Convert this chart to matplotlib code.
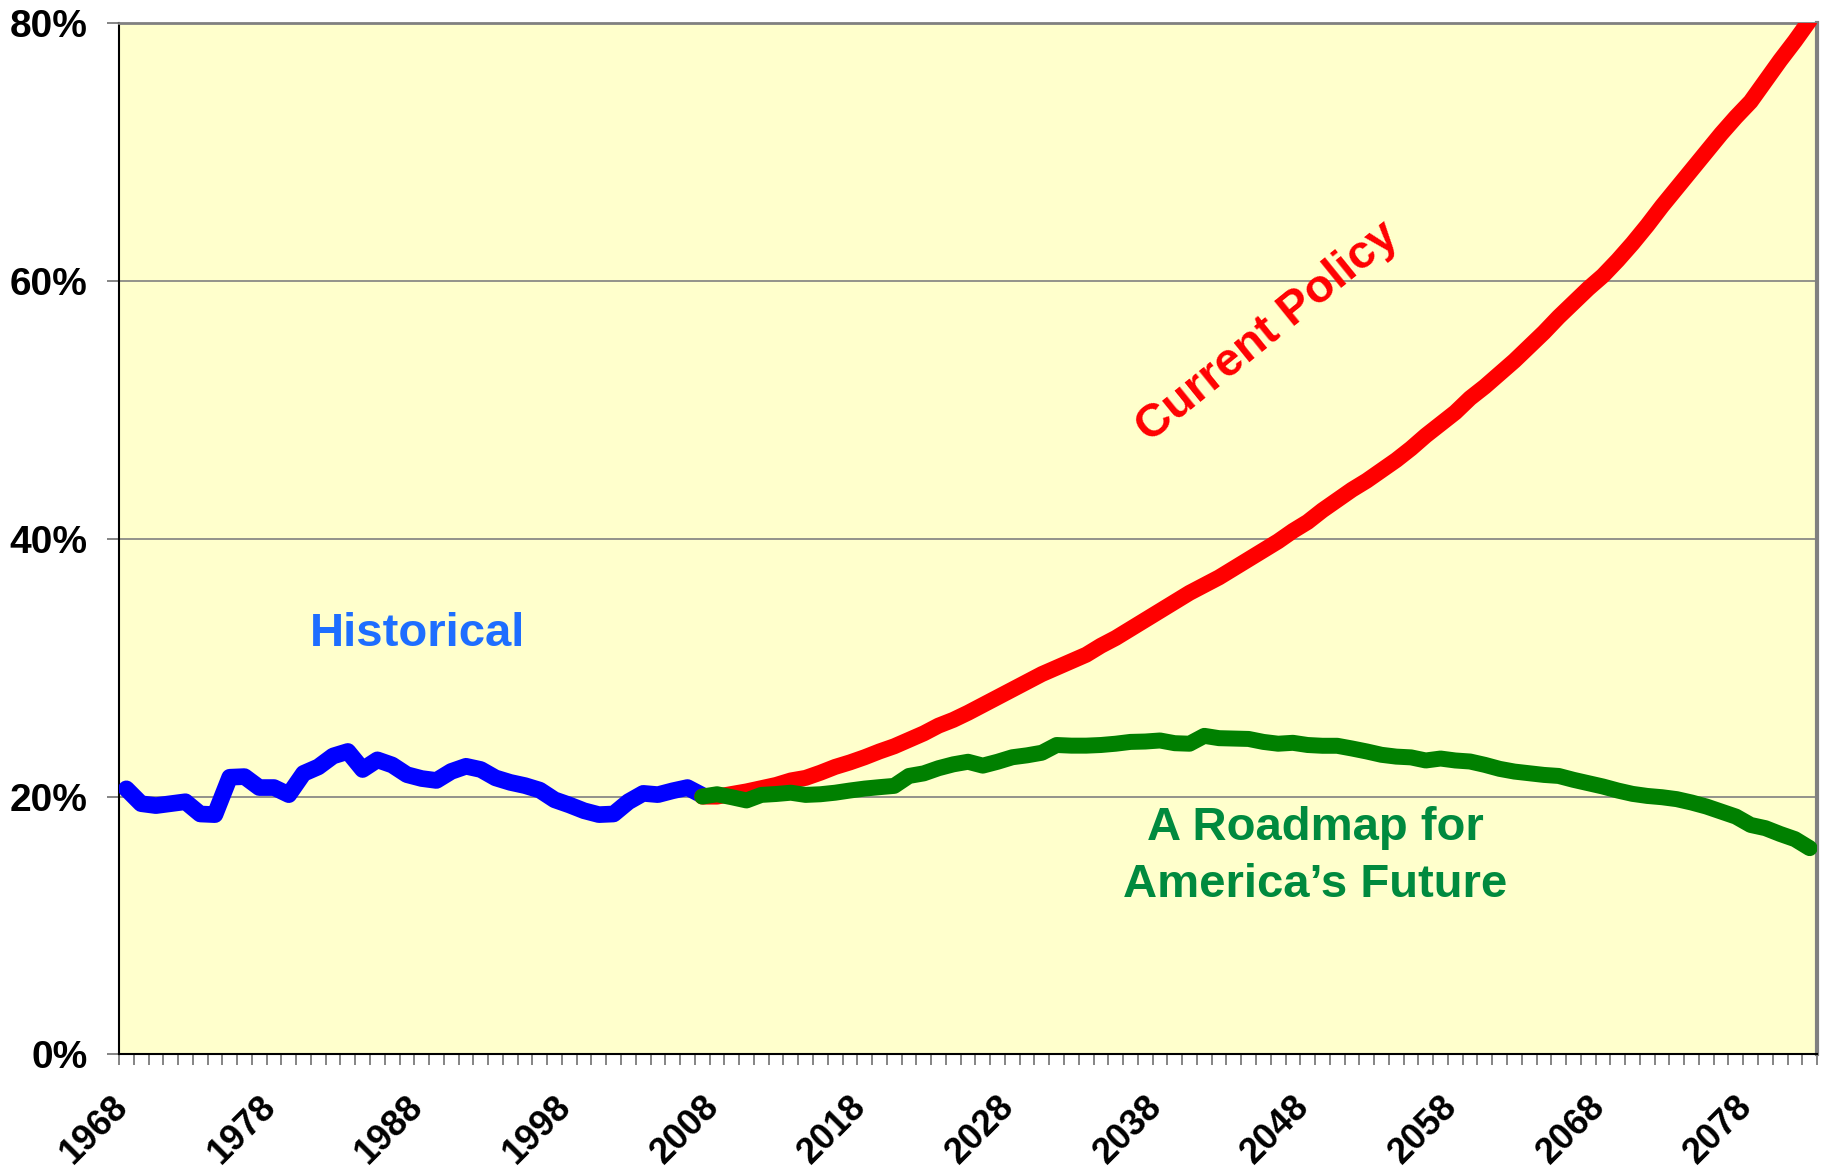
import matplotlib
matplotlib.use("Agg")
import matplotlib.pyplot as plt
from matplotlib.ticker import FixedLocator, FuncFormatter
from matplotlib.transforms import ScaledTranslation

plt.rcParams['font.family'] = ['Liberation Sans', 'DejaVu Sans']

# ---- data (percent of GDP) ----
hist_years = list(range(1968, 2008))
historical = [20.6, 19.45, 19.3, 19.45, 19.6, 18.65, 18.6, 21.5, 21.55, 20.7,
              20.7, 20.15, 21.8, 22.3, 23.15, 23.5, 22.1, 22.85, 22.45, 21.7,
              21.4, 21.25, 21.95, 22.35, 22.1, 21.45, 21.1, 20.85, 20.5, 19.75,
              19.35, 18.9, 18.6, 18.65, 19.6, 20.25, 20.15, 20.45, 20.7, 20.1]

proj_years = list(range(2007, 2083))
current_policy = [20.0, 20.0, 20.2, 20.4, 20.65, 20.9, 21.25, 21.45, 21.85, 22.3,
                  22.65, 23.05, 23.5, 23.9, 24.4, 24.9, 25.5, 25.95, 26.5, 27.1,
                  27.7, 28.3, 28.9, 29.5, 30.0, 30.5, 31.0, 31.7, 32.3, 33.0,
                  33.7, 34.4, 35.1, 35.8, 36.4, 37.0, 37.7, 38.4, 39.1, 39.8,
                  40.6, 41.3, 42.2, 43.0, 43.8, 44.5, 45.3, 46.1, 47.0, 48.0,
                  48.9, 49.8, 50.9, 51.8, 52.8, 53.8, 54.9, 56.0, 57.2, 58.3,
                  59.4, 60.4, 61.6, 62.9, 64.3, 65.8, 67.2, 68.6, 70.0, 71.4,
                  72.7, 73.9, 75.5, 77.1, 78.6, 80.2]
roadmap = [20.0, 20.18, 19.95, 19.7, 20.13, 20.2, 20.3, 20.13, 20.18, 20.3,
           20.47, 20.62, 20.73, 20.83, 21.6, 21.8, 22.2, 22.5, 22.7, 22.4,
           22.7, 23.05, 23.2, 23.4, 24.0, 23.95, 23.95, 24.0, 24.1, 24.24,
           24.27, 24.35, 24.14, 24.1, 24.71, 24.53, 24.5, 24.47, 24.24, 24.1,
           24.17, 24.0, 23.94, 23.94, 23.73, 23.5, 23.24, 23.1, 23.04, 22.8,
           22.95, 22.8, 22.72, 22.46, 22.15, 21.94, 21.81, 21.68, 21.6, 21.3,
           21.04, 20.78, 20.47, 20.21, 20.05, 19.95, 19.8, 19.54, 19.23, 18.84,
           18.45, 17.8, 17.55, 17.1, 16.7, 16.0]

y_ticks = [0, 20, 40, 60, 80]
x_label_years = list(range(1968, 2083, 10))

# ---- figure ----
fig = plt.figure(figsize=(18.22, 11.72), dpi=100)
ax = fig.add_axes([0.0653, 0.1003, 0.9320, 0.8801])
ax.set_facecolor('#FFFFCC')

ax.plot(hist_years, historical, color='#0000FF', lw=12,
        solid_capstyle='round', solid_joinstyle='round', zorder=3)
ax.plot(proj_years, current_policy, color='#FF0000', lw=11.5,
        solid_capstyle='round', solid_joinstyle='round', zorder=4)
ax.plot(proj_years, roadmap, color='#008000', lw=11.5,
        solid_capstyle='round', solid_joinstyle='round', zorder=5)

ax.set_xlim(1967.5, 2082.5)
ax.set_ylim(0, 80)

# gridlines
ax.yaxis.set_major_locator(FixedLocator(y_ticks))
ax.yaxis.set_major_formatter(FuncFormatter(lambda v, p: f"{int(v)}%"))
for v in y_ticks[1:-1]:
    ax.axhline(v, color='#808080', lw=1.2, zorder=1)

ax.xaxis.set_major_locator(FixedLocator(x_label_years))
ax.xaxis.set_minor_locator(FixedLocator([y - 0.5 for y in range(1968, 2084)]))
ax.tick_params(axis='x', which='major', length=0, pad=25, labelsize=26)
ax.tick_params(axis='x', which='minor', length=8, width=1.2, color='#707070',
               direction='out')
ax.tick_params(axis='y', which='major', length=8.5, width=1.2, color='#707070',
               direction='out', pad=14, labelsize=28)

for lab in ax.get_xticklabels():
    lab.set_rotation(45)
    lab.set_ha('right')
    lab.set_va('top')
    lab.set_fontweight('bold')
    lab.set_transform(lab.get_transform() +
                      ScaledTranslation(9 / 100, 0, fig.dpi_scale_trans))
for lab in ax.get_yticklabels():
    lab.set_fontweight('bold')

for side in ['left', 'bottom']:
    ax.spines[side].set_color('#000000')
    ax.spines[side].set_linewidth(1.5)
ax.spines['top'].set_color('#808080')
ax.spines['top'].set_linewidth(2)
ax.spines['right'].set_color('#808080')
ax.spines['right'].set_linewidth(3)

# annotations
ax.text(1987.7, 32.6, 'Historical', color='#1E6EFF', fontsize=34,
        fontweight='bold', ha='center', va='center', zorder=6)
ax.text(2045.3, 56.0, 'Current Policy', color='#FF0000', fontsize=34,
        fontweight='bold', ha='center', va='center', rotation=39, zorder=6)
ax.text(2048.5, 15.35, 'A Roadmap for\nAmerica\u2019s Future', color='#008A3E',
        fontsize=34, fontweight='bold', ha='center', va='center',
        linespacing=1.4, zorder=6)

fig.savefig('out.png', dpi=100, facecolor='white')
